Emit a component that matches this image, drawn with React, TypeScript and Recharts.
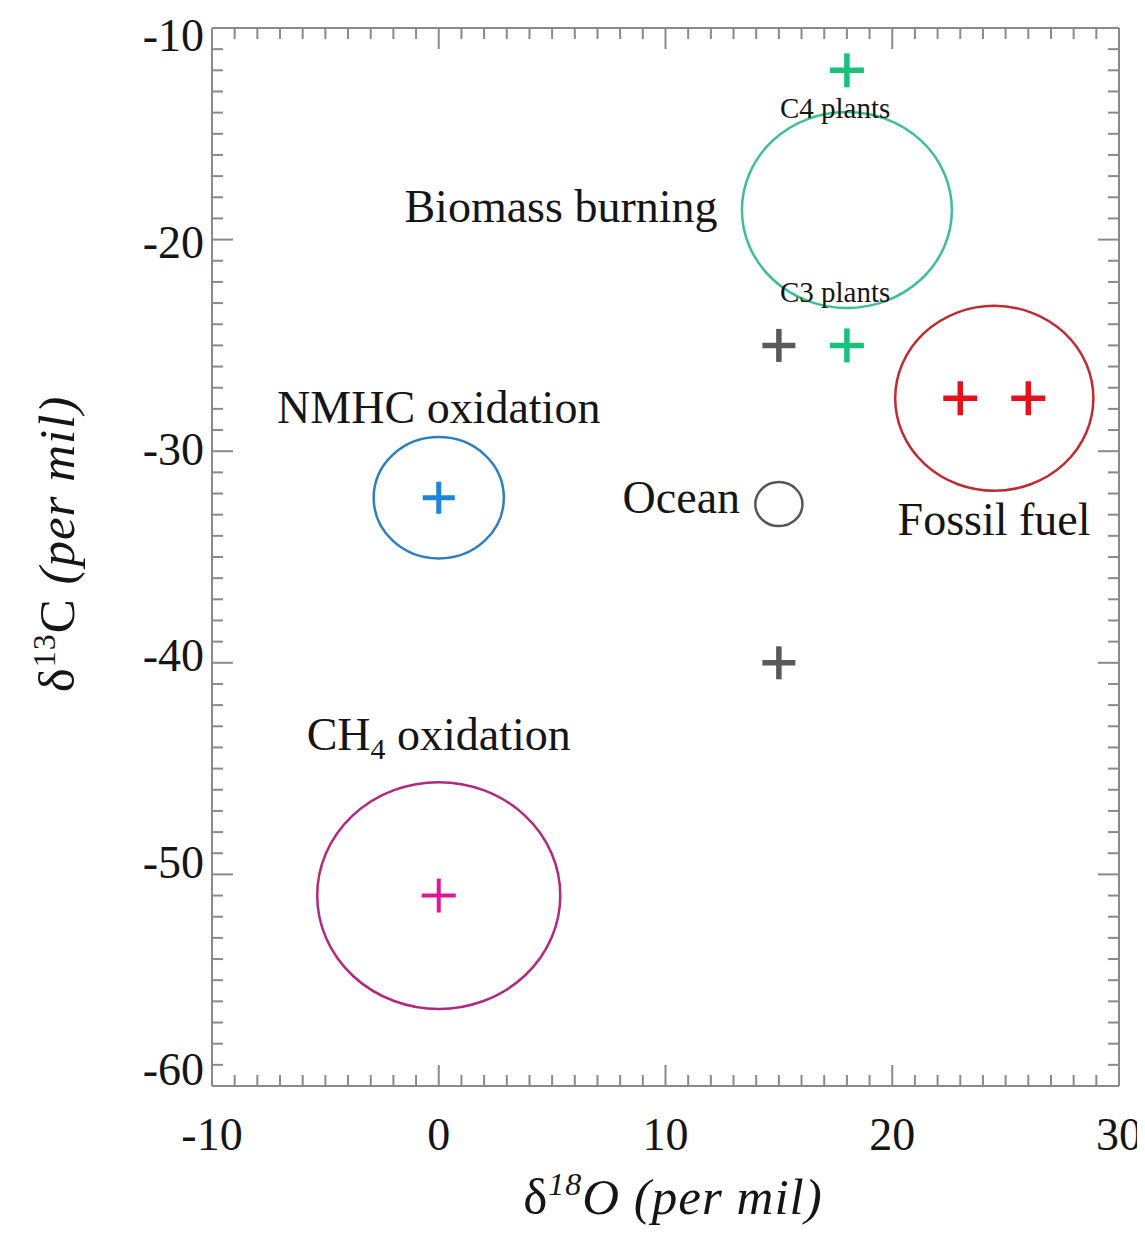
import React from 'react';
import { ScatterChart, Scatter, XAxis, YAxis, ReferenceArea, ReferenceDot } from 'recharts';

// ---- axis ticks ----
const xDomain = [-10, 30];
const yDomain = [-60, -10];
const xMajorLabels = [-10, 0, 10, 20, 30];
const yMajorLabels = [-60, -50, -40, -30, -20, -10];
const xAllTicks = Array.from({ length: 41 }, (_, i) => -10 + i);
const yAllTicks = Array.from({ length: 51 }, (_, i) => -60 + i);

// ---- plus markers (d18O, d13C) ----
const greenPlus = [{ x: 18, y: -12 }, { x: 18, y: -25 }];
const grayPlus = [{ x: 15, y: -25 }, { x: 15, y: -40 }];
const redPlus = [{ x: 23, y: -27.5 }, { x: 26, y: -27.5 }];
const bluePlus = [{ x: 0, y: -32.2 }];
const magentaPlus = [{ x: 0, y: -51 }];

// ---- source circles (centre and radius in per mil) ----
const sourceNames = ['Biomass burning', 'Fossil fuel', 'NMHC oxidation', 'CH4 oxidation', 'Ocean'];
const sourceX = [18, 24.5, 0, 0, 15];
const sourceY = [-18.6, -27.5, -32.2, -51, -32.5];
const sourceR = [4.63, 4.37, 2.87, 5.36, 1.04];

// ---- annotation texts, anchored in data coordinates ----
const labelTexts = ['Biomass burning', 'C4 plants', 'C3 plants', 'NMHC oxidation', 'Ocean', 'Fossil fuel', 'CH4 oxidation'];
const labelX = [5.39, 17.48, 17.48, 0, 13.29, 24.49, 0];
const labelY = [-19.17, -14.25, -22.95, -28.67, -32.92, -33.96, -44.12];

// ---- styles ----
const FONT = "'Liberation Serif', 'Times New Roman', serif";
const TEXT = '#151515';
const AXIS = '#8a8a8a';
const circleColors = ['#3cbf91', '#bf2a30', '#2f7fbf', '#b2287f', '#555555'];
const labelSizes = [46, 29, 29, 46, 46, 46, 46];
const labelAnchors = ['middle', 'middle', 'middle', 'middle', 'end', 'middle', 'middle'];

const plusShape = (color: string, half: number, sw: number) => (props: any) => {
  const { cx, cy } = props;
  if (cx == null || cy == null) return <g />;
  return (
    <g>
      <line x1={cx - half} x2={cx + half} y1={cy} y2={cy} stroke={color} strokeWidth={sw} />
      <line x1={cx} x2={cx} y1={cy - half} y2={cy + half} stroke={color} strokeWidth={sw} />
    </g>
  );
};

const ellipseShape = (color: string, sw: number) => (props: any) => {
  const { x, y, width, height } = props;
  const w = Math.abs(width);
  const h = Math.abs(height);
  const left = Math.min(x, x + width);
  const top = Math.min(y, y + height);
  return (
    <ellipse
      cx={left + w / 2}
      cy={top + h / 2}
      rx={w / 2}
      ry={h / 2}
      fill="none"
      stroke={color}
      strokeWidth={sw}
    />
  );
};

const BottomTick = (props: any) => {
  const { x, y, payload } = props;
  const v = payload.value;
  const major = xMajorLabels.includes(v);
  return (
    <g>
      <line x1={x} x2={x} y1={y} y2={y - (major ? 21 : 11)} stroke={AXIS} strokeWidth={2} />
      {major && (
        <text x={x} y={y + 64} textAnchor="middle" fontSize={46} fontFamily={FONT} fill={TEXT}>
          {v}
        </text>
      )}
    </g>
  );
};

const TopTick = (props: any) => {
  const { x, y, payload } = props;
  const major = xMajorLabels.includes(payload.value);
  return <line x1={x} x2={x} y1={y} y2={y + (major ? 21 : 11)} stroke={AXIS} strokeWidth={2} />;
};

const LeftTick = (props: any) => {
  const { x, y, payload } = props;
  const v = payload.value;
  const major = yMajorLabels.includes(v);
  const frac = (-10 - v) / 50;
  return (
    <g>
      <line x1={x} x2={x + (major ? 21 : 11)} y1={y} y2={y} stroke={AXIS} strokeWidth={2} />
      {major && (
        <text x={x - 8} y={y + 15 + 8 - 24 * frac} textAnchor="end" fontSize={46} fontFamily={FONT} fill={TEXT}>
          {v}
        </text>
      )}
    </g>
  );
};

const RightTick = (props: any) => {
  const { x, y, payload } = props;
  const major = yMajorLabels.includes(payload.value);
  return <line x1={x} x2={x - (major ? 21 : 11)} y1={y} y2={y} stroke={AXIS} strokeWidth={2} />;
};

const XLabel = () => (
  <text x={665} y={1206} textAnchor="middle" fontSize={51} fontFamily={FONT} fill={TEXT} letterSpacing={1}>
    <tspan>δ</tspan>
    <tspan fontSize={32} dy={-19} fontStyle="italic">18</tspan>
    <tspan dy={19} fontStyle="italic">O (per mil)</tspan>
  </text>
);

const YLabel = () => (
  <text
    x={66}
    y={536}
    transform="rotate(-90, 66, 536)"
    textAnchor="middle"
    fontSize={51}
    fontFamily={FONT}
    fill={TEXT}
    letterSpacing={1}
  >
    <tspan>δ</tspan>
    <tspan fontSize={32} dy={-19}>13</tspan>
    <tspan dy={19}>C </tspan>
    <tspan fontStyle="italic">(per mil)</tspan>
  </text>
);

const labelShape = (i: number) => (props: any) => {
  const { cx, cy } = props;
  const t = labelTexts[i];
  const common = {
    x: cx,
    y: cy,
    textAnchor: labelAnchors[i] as any,
    fontSize: labelSizes[i],
    fontFamily: FONT,
    fill: TEXT,
  };
  if (t === 'CH4 oxidation') {
    return (
      <text {...common}>
        <tspan>CH</tspan>
        <tspan fontSize={30} dy={9}>4</tspan>
        <tspan dy={-9}> oxidation</tspan>
      </text>
    );
  }
  return <text {...common}>{t}</text>;
};

export default function App() {
  return (
    <ScatterChart
      width={1137}
      height={1232}
      margin={{ top: 19, right: 25, bottom: 0, left: 0 }}
      style={{ background: '#fff' }}
    >
      <XAxis
        dataKey="x"
        type="number"
        domain={xDomain}
        ticks={xAllTicks}
        interval={0}
        tickSize={0}
        tickMargin={0}
        tickLine={false}
        tick={<BottomTick />}
        height={154}
        axisLine={{ stroke: AXIS, strokeWidth: 2 }}
        allowDataOverflow
        label={{ content: <XLabel /> }}
      />
      <XAxis
        xAxisId="top"
        orientation="top"
        dataKey="x"
        type="number"
        domain={xDomain}
        ticks={xAllTicks}
        interval={0}
        tickSize={0}
        tickMargin={0}
        tickLine={false}
        tick={<TopTick />}
        height={1}
        axisLine={{ stroke: AXIS, strokeWidth: 2 }}
        allowDataOverflow
      />
      <YAxis
        dataKey="y"
        type="number"
        domain={yDomain}
        ticks={yAllTicks}
        interval={0}
        tickSize={0}
        tickMargin={0}
        tickLine={false}
        tick={<LeftTick />}
        width={204}
        axisLine={{ stroke: AXIS, strokeWidth: 2 }}
        allowDataOverflow
        label={{ content: <YLabel /> }}
      />
      <YAxis
        yAxisId="right"
        orientation="right"
        dataKey="y"
        type="number"
        domain={yDomain}
        ticks={yAllTicks}
        interval={0}
        tickSize={0}
        tickMargin={0}
        tickLine={false}
        tick={<RightTick />}
        width={1}
        axisLine={{ stroke: AXIS, strokeWidth: 2 }}
        allowDataOverflow
      />

      <ReferenceArea
        xAxisId="top"
        yAxisId="right"
        x1={xDomain[0]}
        x2={xDomain[1]}
        y1={yDomain[0]}
        y2={yDomain[1]}
        fill="none"
        fillOpacity={0}
        stroke="none"
        ifOverflow="extendDomain"
      />

      {sourceNames.map((name, i) => (
        <ReferenceArea
          key={name}
          x1={sourceX[i] - sourceR[i]}
          x2={sourceX[i] + sourceR[i]}
          y1={sourceY[i] - sourceR[i]}
          y2={sourceY[i] + sourceR[i]}
          shape={ellipseShape(circleColors[i], 2.5)}
          ifOverflow="visible"
        />
      ))}

      <Scatter data={grayPlus} isAnimationActive={false} shape={plusShape('#5a5a5a', 16.5, 5.5)} />
      <Scatter data={greenPlus} isAnimationActive={false} shape={plusShape('#19c27c', 17, 5.5)} />
      <Scatter data={redPlus} isAnimationActive={false} shape={plusShape('#e3121b', 17, 5.5)} />
      <Scatter data={bluePlus} isAnimationActive={false} shape={plusShape('#1b86d6', 16, 5)} />
      <Scatter data={magentaPlus} isAnimationActive={false} shape={plusShape('#e0169a', 17, 4)} />

      {labelTexts.map((t, i) => (
        <ReferenceDot
          key={t}
          x={labelX[i]}
          y={labelY[i]}
          r={0}
          ifOverflow="visible"
          shape={labelShape(i)}
        />
      ))}
    </ScatterChart>
  );
}
